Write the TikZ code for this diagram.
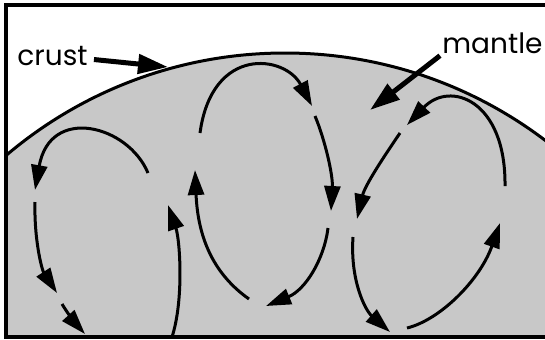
\documentclass[tikz,border=0pt]{standalone}
\usepackage{fontspec}
\usepackage{tikz}
\usetikzlibrary{arrows.meta}
\newfontfamily\labelfont{Poppins}
\definecolor{rock}{HTML}{C8C8C8}
\definecolor{ink}{HTML}{000000}
\tikzset{
  frame/.style={draw=ink, line width=2pt},
  crustline/.style={draw=ink, line width=1.5pt},
  flow/.style={draw=ink, line width=1.5pt, -{Triangle[length=12.5pt,width=8pt]}},
  pointer/.style={draw=ink, line width=2.5pt, -{Triangle[length=15pt,width=9.5pt]}},
  lab/.style={text=ink, font=\labelfont\fontsize{14}{16}\selectfont, inner sep=1pt},
}
\begin{document}
\begin{tikzpicture}[x=0.5pt, y=-0.5pt]
  \useasboundingbox (0,0) rectangle (545,339);
  % mantle under the crust
  \begin{scope}
    \clip (5,5) rectangle (545,337);
    \fill[rock] (285,484) circle (431);
    \draw[crustline] (285,484) circle (431);
  \end{scope}
  \draw[frame] (545,5) -- (5.5,5) -- (5.5,337) -- (545,337);
  % labels
  \node[lab, anchor=base west] (crust) at (15,65) {crust};
  \node[lab, anchor=base west] (mantle) at (440,53) {mantle};
  \coordinate (crusttip) at (168,67);
  \coordinate (mantletip) at (370,110);
  \draw[pointer] ([shift={(2pt,-2pt)}]crust.east) -- (crusttip);
  \draw[pointer] (mantle.south west) -- (mantletip);
  % left cell
  \draw[flow] (148,173) .. controls (128,125) and (50,105) .. (35,190);
  \draw[flow] (35,202) .. controls (34,240) and (42,270) .. (57,293);
  \draw[flow] (62,304) .. controls (68,314) and (76,324) .. (85,334);
  \draw[flow] (172,337) .. controls (184,300) and (180,240) .. (168,205);
  % middle cell
  \draw[flow] (200,133) .. controls (212,45) and (285,55) .. (312,106);
  \draw[flow] (315,116) .. controls (325,140) and (333,175) .. (331,211);
  \draw[flow] (328,228) .. controls (324,260) and (305,290) .. (266,306);
  \draw[flow] (249,299) .. controls (215,275) and (198,240) .. (195,170);
  % right cell
  \draw[flow] (505,186) .. controls (506,100) and (450,80) .. (407,125);
  \draw[flow] (400,133) .. controls (385,155) and (365,185) .. (357,219);
  \draw[flow] (353,237) .. controls (350,280) and (365,310) .. (390,332);
  \draw[flow] (407,328) .. controls (440,320) and (480,280) .. (500,223);
\end{tikzpicture}
\end{document}
